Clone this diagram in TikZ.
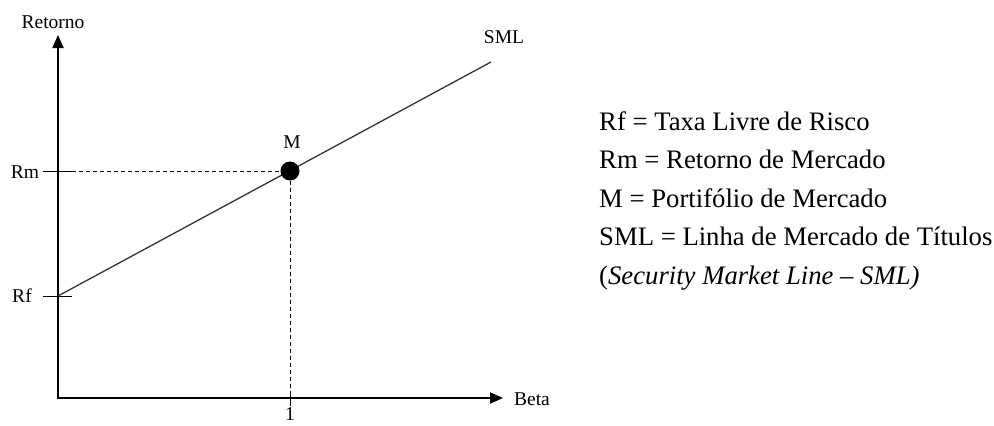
\documentclass[tikz,border=0pt]{standalone}
\usepackage{fontspec}
\setmainfont{Liberation Serif}
\usetikzlibrary{arrows.meta}
\begin{document}
\begin{tikzpicture}[x=1pt,y=-1pt,
  axis/.style={line width=2pt, -{Triangle[length=13pt,width=11pt]}},
  lbl/.style={font=\fontsize{19.5}{22}\selectfont, inner sep=0pt},
  leg/.style={font=\fontsize{26.7}{30}\selectfont, anchor=base west, inner sep=0pt},
  guide/.style={line width=1pt, dash pattern=on 4pt off 3pt},
  tickmark/.style={line width=1pt},
  smlline/.style={line width=1.3pt, black!80}]
\useasboundingbox (0,0) rectangle (994,426);
% axes
\coordinate (O) at (58,398);
\coordinate (Ytop) at (58,35);
\coordinate (Xend) at (503,398);
\draw[axis] (58,399) -- (Ytop);
\draw[axis] (57,398) -- (Xend);
% ticks
\coordinate (RmL) at (43,171);
\coordinate (RmR) at (72,171);
\coordinate (RfL) at (43,296);
\coordinate (RfR) at (72,296);
\coordinate (Rf) at (58,296);
\coordinate (OneT) at (290,391);
\coordinate (OneB) at (290,406);
\draw[tickmark] (RmL) -- (RmR);
\draw[tickmark] (RfL) -- (RfR);
\draw[tickmark] (OneT) -- (OneB);
% SML line
\coordinate (SMLend) at (491,62);
\draw[smlline] (Rf) -- (SMLend);
% market point
\node[circle, fill=black, minimum size=19pt, inner sep=0pt] (Mpt) at (290,171) {};
\draw[guide] (RmR) -- (Mpt.west);
\draw[guide] (Mpt.south) -- (OneT);
% labels
\node[lbl, anchor=base] (ret) at (53,28) {Retorno};
\node[lbl, anchor=base] (beta) at (532,405) {Beta};
\node[lbl, anchor=base] (rm) at (25,178) {Rm};
\node[lbl, anchor=base] (rf) at (22,302) {Rf};
\node[lbl, anchor=base] (mlbl) at (292,148) {M};
\node[lbl, anchor=base] (smllbl) at (504,43) {SML};
\node[lbl, anchor=north] (one) at (290,407.5) {1};
% legend
\node[leg] (l1) at (599,130) {Rf = Taxa Livre de Risco};
\node[leg] (l2) at (599,168.5) {Rm = Retorno de Mercado};
\node[leg] (l3) at (599,207) {M = Portifólio de Mercado};
\node[leg] (l4) at (599,245.5) {SML = Linha de Mercado de Títulos};
\node[leg] (l5) at (599,284) {(\textit{Security Market Line – SML)}};
\end{tikzpicture}
\end{document}
